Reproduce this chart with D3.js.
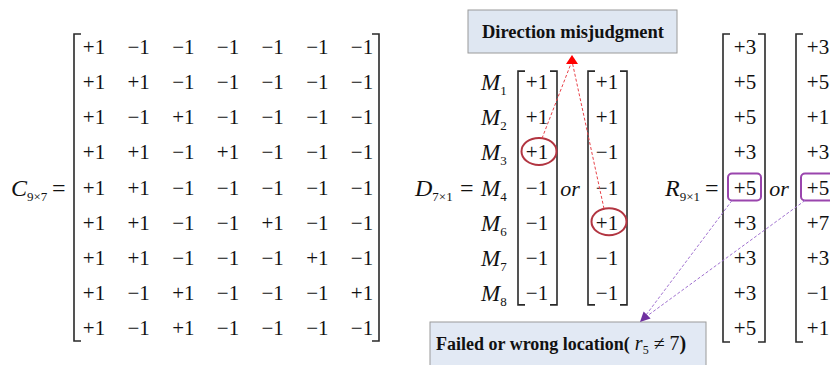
<!DOCTYPE html>
<html>
<head>
<meta charset="utf-8">
<script src="https://cdn.jsdelivr.net/npm/d3@7"></script>
<style>
  html, body { margin: 0; padding: 0; background: #fff; }
  svg { display: block; }
  text { font-family: "Liberation Serif", "Times New Roman", serif; fill: #111; }
</style>
</head>
<body>
<div id="chart"></div>
<script>
// matrix C (9 x 7), rows of +1 / -1
const cMatrix = [
    [1, -1, -1, -1, -1, -1, -1],
    [1, 1, -1, -1, -1, -1, -1],
    [1, -1, 1, -1, -1, -1, -1],
    [1, 1, -1, 1, -1, -1, -1],
    [1, 1, -1, -1, -1, -1, -1],
    [1, 1, -1, -1, 1, -1, -1],
    [1, 1, -1, -1, -1, 1, -1],
    [1, -1, 1, -1, -1, -1, 1],
    [1, -1, 1, -1, -1, -1, -1]
];

// vector D (7 x 1): row labels and the two alternatives
const dLabels = ["1", "2", "3", "4", "6", "7", "8"];
const dVecA = [1, 1, 1, -1, -1, -1, -1];
const dVecB = [1, 1, -1, -1, 1, -1, -1];

// vector R (9 x 1): the two alternatives
const rVecA = [3, 5, 5, 3, 5, 3, 3, 3, 5];
const rVecB = [3, 5, 1, 3, 5, 7, 3, -1, 1];

// highlighted entries
const dMarked = [{ vec: "A", row: 2 }, { vec: "B", row: 4 }];
const rMarked = [{ vec: "A", row: 4 }, { vec: "B", row: 4 }];

const boxTitle1 = "Direction misjudgment";
const boxTitle2 = "Failed or wrong location(";

const width = 830, height = 365;
const fmt = v => (v > 0 ? "+" : "\u2212") + Math.abs(v);
const base = 6; // text baseline offset from row centre

const svg = d3.select("#chart")
    .append("svg")
    .attr("width", width)
    .attr("height", height);

// shared row scale (9 rows), D uses rows 1..7
const rowY = d3.scaleLinear().domain([0, 8]).range([48, 329]);
const colX = d3.scaleLinear().domain([0, 6]).range([94, 362]);
const dX = d3.scaleOrdinal().domain(["A", "B"]).range([537, 607]);
const rX = d3.scaleOrdinal().domain(["A", "B"]).range([745, 818]);

const bracketColor = "#2a2a2a";
const serif = 7;

function bracket(x0, x1, y0, y1) {
    const g = svg.append("g")
        .attr("fill", "none")
        .attr("stroke", bracketColor)
        .attr("stroke-width", 1.6);
    g.append("path").attr("d", `M${x0 + serif},${y0}H${x0}V${y1}H${x0 + serif}`);
    g.append("path").attr("d", `M${x1 - serif},${y0}H${x1}V${y1}H${x1 - serif}`);
}

function label(x, y, main, sub) {
    const t = svg.append("text").attr("x", x).attr("y", y).style("font-size", "24px");
    t.append("tspan").style("font-style", "italic").text(main);
    t.append("tspan").attr("dy", 5).style("font-size", "13px").text(sub);
    return t;
}

// ---- C matrix ----
const cTop = rowY(0) - 14, cBot = rowY(8) + 12;
bracket(colX(0) - 20, colX(6) + 17, cTop, cBot);

svg.append("g").selectAll("g")
    .data(cMatrix)
    .join("g")
    .selectAll("text")
    .data((row, i) => row.map((v, j) => ({ v, i, j })))
    .join("text")
    .attr("x", d => colX(d.j))
    .attr("y", d => rowY(d.i) + base)
    .attr("text-anchor", "middle")
    .style("font-size", "21px")
    .text(d => fmt(d.v));

label(11, rowY(4) + 7, "C", "9\u00d77");
svg.append("text").attr("x", 52).attr("y", rowY(4) + 7).style("font-size", "24px").text("=");

// ---- D vector ----
const dTop = rowY(1) - 12, dBot = rowY(7) + 11;
[["A", dVecA], ["B", dVecB]].forEach(([k, vec]) => {
    bracket(dX(k) - 19, dX(k) + 20, dTop, dBot);
    svg.append("g").selectAll("text")
        .data(vec)
        .join("text")
        .attr("x", dX(k))
        .attr("y", (d, i) => rowY(i + 1) + base)
        .attr("text-anchor", "middle")
        .style("font-size", "21px")
        .text(d => fmt(d));
});

label(415, rowY(4) + 7, "D", "7\u00d71");
svg.append("text").attr("x", 460).attr("y", rowY(4) + 7).style("font-size", "24px").text("=");

svg.append("g").selectAll("text")
    .data(dLabels)
    .join("text")
    .attr("x", 481)
    .attr("y", (d, i) => rowY(i + 1) + 7)
    .style("font-size", "23px")
    .each(function (d) {
        const t = d3.select(this);
        t.append("tspan").style("font-style", "italic").text("M");
        t.append("tspan").attr("dy", 5).style("font-size", "13px").text(d);
    });

svg.append("text").attr("x", 570).attr("y", rowY(4) + 7).attr("text-anchor", "middle")
    .style("font-size", "22px").style("font-style", "italic").text("or");

// ---- R vector ----
const rTop = rowY(0) - 14, rBot = rowY(8) + 13;
[["A", rVecA], ["B", rVecB]].forEach(([k, vec]) => {
    bracket(rX(k) - 22, rX(k) + 20, rTop, rBot);
    svg.append("g").selectAll("text")
        .data(vec)
        .join("text")
        .attr("x", rX(k))
        .attr("y", (d, i) => rowY(i) + base)
        .attr("text-anchor", "middle")
        .style("font-size", "21px")
        .text(d => fmt(d));
});

label(665, rowY(4) + 7, "R", "9\u00d71");
svg.append("text").attr("x", 705).attr("y", rowY(4) + 7).style("font-size", "24px").text("=");
svg.append("text").attr("x", 779).attr("y", rowY(4) + 7).attr("text-anchor", "middle")
    .style("font-size", "22px").style("font-style", "italic").text("or");

// ---- annotation boxes ----
svg.append("rect")
    .attr("x", 468).attr("y", 10).attr("width", 209).attr("height", 43)
    .attr("fill", "#dfe7f2").attr("stroke", "#9a9a9a").attr("stroke-width", 1);
svg.append("text")
    .attr("x", 573).attr("y", 38).attr("text-anchor", "middle")
    .style("font-size", "18.5px").style("font-weight", "bold")
    .text(boxTitle1);

svg.append("rect")
    .attr("x", 430).attr("y", 322).attr("width", 276).attr("height", 60)
    .attr("fill", "#e2e9f4").attr("stroke", "#9a9a9a").attr("stroke-width", 1);
const t2 = svg.append("text")
    .attr("x", 436).attr("y", 350)
    .style("font-size", "18px");
t2.append("tspan").style("font-weight", "bold").text(boxTitle2);
t2.append("tspan").style("font-style", "italic").style("font-size", "20px").text(" r");
t2.append("tspan").attr("dy", 4).style("font-size", "12px").text("5");
t2.append("tspan").attr("dy", -4).style("font-size", "20px").text(" \u2260 7");
t2.append("tspan").style("font-weight", "bold").style("font-size", "20px").text(")");

// ---- red highlights and arrow ----
const red = "#b23541";
const redTip = [572, 55];
dMarked.forEach(m => {
    const cx = dX(m.vec) + 2, cy = rowY(m.row + 1) - 2;
    svg.append("ellipse")
        .attr("cx", cx).attr("cy", cy).attr("rx", 17.5).attr("ry", 13.5)
        .attr("fill", "none").attr("stroke", red).attr("stroke-width", 2);
    svg.append("line")
        .attr("x1", m.vec === "A" ? cx + 3 : cx - 5).attr("y1", cy - 13)
        .attr("x2", redTip[0]).attr("y2", redTip[1] + 6)
        .attr("stroke", "#e8434a").attr("stroke-width", 1)
        .attr("stroke-dasharray", "3,2");
});
svg.append("path")
    .attr("d", `M${redTip[0]},${redTip[1]}L${redTip[0] + 6},${redTip[1] + 9}L${redTip[0] - 6},${redTip[1] + 9}Z`)
    .attr("fill", "#ff0000");

// ---- purple highlights and arrow ----
const purple = "#9a45ad";
const purpleTip = [640, 322];
const starts = [];
rMarked.forEach(m => {
    const cx = rX(m.vec), cy = rowY(m.row);
    svg.append("rect")
        .attr("x", cx - 17).attr("y", cy - 15).attr("width", 33).attr("height", 27)
        .attr("rx", 4)
        .attr("fill", "none").attr("stroke", purple).attr("stroke-width", 2);
    starts.push([cx - 13, cy + 12]);
});
starts.forEach(s => {
    svg.append("line")
        .attr("x1", s[0]).attr("y1", s[1])
        .attr("x2", purpleTip[0] + 3).attr("y2", purpleTip[1] - 3)
        .attr("stroke", "#a070d0").attr("stroke-width", 1)
        .attr("stroke-dasharray", "3,2");
});
// arrowhead oriented along the mean direction of the two lines
const ang = d3.mean(starts, s => Math.atan2(purpleTip[1] - s[1], purpleTip[0] - s[0]));
const L = 10, W = 5;
const bx = purpleTip[0] - L * Math.cos(ang), by = purpleTip[1] - L * Math.sin(ang);
svg.append("path")
    .attr("d", `M${purpleTip[0]},${purpleTip[1]}` +
        `L${bx + W * Math.sin(ang)},${by - W * Math.cos(ang)}` +
        `L${bx - W * Math.sin(ang)},${by + W * Math.cos(ang)}Z`)
    .attr("fill", "#7030a0");
</script>
</body>
</html>
